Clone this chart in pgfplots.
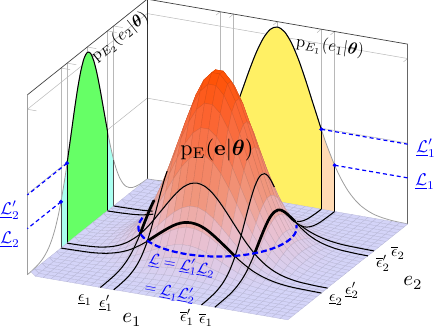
\documentclass[border=0pt]{standalone}
\usepackage{amsmath,amssymb}
\usepackage{pgfplots}
\usepackage{pgfplotstable}
\pgfplotsset{compat=1.18}
\pgfplotsset{pick/.style 2 args={x filter/.append code={\ifnum\coordindex<#1 \def\pgfmathresult{}\fi\ifnum\coordindex>#2 \def\pgfmathresult{}\fi}}}
\definecolor{hy}{RGB}{255,240,100}
\definecolor{hp}{RGB}{255,218,180}
\definecolor{hg}{RGB}{102,255,102}
\definecolor{hc}{RGB}{170,255,240}
% slices: t, marginal m, and joint at 1.25 (a) and 1.63 (b)
\pgfplotstableread{
t m a b
-3.71 .001 .000 .000
-3.4 .003 .001 .001
-3.2 .006 .003 .002
-3.0 .011 .005 .003
-2.8 .019 .009 .005
-2.6 .033 .016 .009
-2.4 .054 .026 .015
-2.2 .086 .041 .024
-2.0 .131 .062 .036
-1.8 .192 .091 .052
-1.63 .257 .121 .070
-1.4 .364 .172 .099
-1.25 .444 .210 .121
-1.0 .588 .278 .161
-.8 .704 .332 .192
-.6 .810 .382 .221
-.4 .895 .423 .245
-.2 .951 .449 .260
0 .970 .458 .265
.2 .951 .449 .260
.4 .895 .423 .245
.6 .810 .382 .221
.8 .704 .332 .192
1.0 .588 .278 .161
1.25 .444 .210 .121
1.4 .364 .172 .099
1.63 .257 .121 .070
1.8 .192 .091 .052
2.0 .131 .062 .036
2.2 .086 .041 .024
2.4 .054 .026 .015
2.6 .033 .016 .009
2.8 .019 .009 .005
3.0 .011 .005 .003
3.2 .006 .003 .002
3.4 .003 .001 .001
3.71 .001 .000 .000
}\T
\begin{document}
\begin{tikzpicture}
\begin{axis}[
  hide axis, clip=false,
  x={(35.1pt,-6.06pt)}, y={(16.15pt,12.9pt)}, z={(0pt,180pt)},
  xmin=-3.71, xmax=3.71, ymin=-3.71, ymax=3.71, zmin=0, zmax=1,
  point meta min=0, point meta max=1,
  colormap={hill}{rgb255=(212,212,248) rgb255=(234,190,205) rgb255=(240,150,125) rgb255=(246,122,85) rgb255=(252,98,45) rgb255=(255,80,0)},
  wire/.style={black!28, line width=0.5pt},
  thin slice/.style={black, line width=1.05pt, smooth, line join=round},
  thick slice/.style={black, line width=2.7pt, smooth, line cap=round},
]
% walls
\addplot3[wire] coordinates {(-3.71,-3.71,.92) (-3.71,3.71,.92) (3.71,3.71,.92)};
\addplot3[wire] coordinates {(-3.71,-3.71,.45) (-3.71,3.71,.45) (3.71,3.71,.45)};
\addplot3[wire] coordinates {(1.25,3.71,0) (1.25,3.71,1)};
\addplot3[wire] coordinates {(1.63,3.71,0) (1.63,3.71,1)};
\addplot3[wire] coordinates {(-1.25,3.71,0) (-1.25,3.71,1)};
\addplot3[wire] coordinates {(-1.63,3.71,0) (-1.63,3.71,1)};
\addplot3[wire] coordinates {(0,3.71,.97) (0,3.71,1)};
\addplot3[wire] coordinates {(-3.71,1.25,0) (-3.71,1.25,1)};
\addplot3[wire] coordinates {(-3.71,1.63,0) (-3.71,1.63,1)};
\addplot3[wire] coordinates {(-3.71,-1.25,0) (-3.71,-1.25,1)};
\addplot3[wire] coordinates {(-3.71,-1.63,0) (-3.71,-1.63,1)};
\addplot3[wire] coordinates {(-3.71,0,.97) (-3.71,0,1)};
\addplot3[wire, unbounded coords=jump] coordinates {
 (-1.63,3.71,1) (-1.63,3.45,1) (nan,nan,nan)
 (-1.25,3.71,1) (-1.25,3.45,1) (nan,nan,nan)
 (0,3.71,1) (0,3.45,1) (nan,nan,nan)
 (1.25,3.71,1) (1.25,3.45,1) (nan,nan,nan)
 (1.63,3.71,1) (1.63,3.45,1) (nan,nan,nan)
 (3.71,3.71,.92) (3.71,3.45,.92) (nan,nan,nan)
 (-3.71,-3.71,.92) (-3.45,-3.71,.92) (nan,nan,nan)
 (-3.71,-1.63,1) (-3.45,-1.63,1) (nan,nan,nan)
 (-3.71,-1.25,1) (-3.45,-1.25,1) (nan,nan,nan)
 (-3.71,0,1) (-3.45,0,1) (nan,nan,nan)
 (-3.71,1.25,1) (-3.45,1.25,1) (nan,nan,nan)
 (-3.71,1.63,1) (-3.45,1.63,1)
};
\addplot3[black!75, line width=0.7pt] coordinates {(-3.71,-3.71,1) (-3.71,3.71,1) (3.71,3.71,1)};
\addplot3[black!38, line width=1.2pt] coordinates {(-3.71,-3.71,0) (-3.71,-3.71,1)};
\addplot3[black!80, line width=0.6pt] coordinates {(-3.71,3.71,0) (-3.71,3.71,1)};
\addplot3[black!60, line width=0.8pt] coordinates {(3.71,3.71,0) (3.71,3.71,1)};
% marginals, filled parts
\addplot3[fill=hp, draw=none] coordinates {(1.25,3.71,0) (1.25,3.71,.444) (1.4,3.71,.364) (1.63,3.71,.257) (1.63,3.71,0)} -- cycle;
\addplot3[fill=hp, draw=none] coordinates {(-1.25,3.71,0) (-1.25,3.71,.444) (-1.4,3.71,.364) (-1.63,3.71,.257) (-1.63,3.71,0)} -- cycle;
\addplot3[fill=hy, draw=none] coordinates {(-1.25,3.71,0) (-1.25,3.71,.444) (-1,3.71,.588) (-.8,3.71,.704) (-.6,3.71,.81) (-.4,3.71,.895) (-.2,3.71,.951) (0,3.71,.97) (.2,3.71,.951) (.4,3.71,.895) (.6,3.71,.81) (.8,3.71,.704) (1,3.71,.588) (1.25,3.71,.444) (1.25,3.71,0)} -- cycle;
\addplot3[fill=hc, draw=none] coordinates {(-3.71,1.25,0) (-3.71,1.25,.444) (-3.71,1.4,.364) (-3.71,1.63,.257) (-3.71,1.63,0)} -- cycle;
\addplot3[fill=hc, draw=none] coordinates {(-3.71,-1.25,0) (-3.71,-1.25,.444) (-3.71,-1.4,.364) (-3.71,-1.63,.257) (-3.71,-1.63,0)} -- cycle;
\addplot3[fill=hg, draw=none] coordinates {(-3.71,-1.25,0) (-3.71,-1.25,.444) (-3.71,-1,.588) (-3.71,-.8,.704) (-3.71,-.6,.81) (-3.71,-.4,.895) (-3.71,-.2,.951) (-3.71,0,.97) (-3.71,.2,.951) (-3.71,.4,.895) (-3.71,.6,.81) (-3.71,.8,.704) (-3.71,1,.588) (-3.71,1.25,.444) (-3.71,1.25,0)} -- cycle;
% marginal curves
\addplot3[black!38, line width=0.8pt, smooth] table[x=t, y expr=3.71, z=m] {\T};
\addplot3[black!38, line width=0.8pt, smooth] table[x expr=-3.71, y=t, z=m] {\T};
\addplot3[black, line width=1pt, smooth, pick={12}{24}] table[x=t, y expr=3.71, z=m] {\T};
\addplot3[black, line width=1pt, smooth, pick={12}{24}] table[x expr=-3.71, y=t, z=m] {\T};
\addplot3[black, line width=1.1pt] coordinates {(1.25,3.71,0) (1.25,3.71,.444)};
\addplot3[black, line width=1.1pt] coordinates {(1.63,3.71,0) (1.63,3.71,.257)};
\addplot3[black, line width=1.1pt] coordinates {(-3.71,-1.25,0) (-3.71,-1.25,.444)};
\addplot3[black, line width=1.1pt] coordinates {(-3.71,1.25,0) (-3.71,1.25,.444)};
\addplot3[black!70, line width=0.7pt] coordinates {(-3.71,-1.63,0) (-3.71,-1.63,.257)};
\addplot3[black!70, line width=0.7pt] coordinates {(-3.71,1.63,0) (-3.71,1.63,.257)};
% levels in blue
\addplot3[blue, line width=1.2pt, dash pattern=on 4pt off 3pt] coordinates {(1.25,3.71,.444) (3.71,3.71,.444)};
\addplot3[blue, line width=1.2pt, dash pattern=on 4pt off 3pt] coordinates {(1.63,3.71,.257) (3.71,3.71,.257)};
\addplot3[blue, line width=1.2pt, dash pattern=on 4pt off 3pt] coordinates {(-3.71,-1.25,.444) (-3.71,-3.71,.444)};
\addplot3[blue, line width=1.2pt, dash pattern=on 4pt off 3pt] coordinates {(-3.71,-1.63,.257) (-3.71,-3.71,.257)};
\addplot3[only marks, mark=*, mark size=1.8pt, blue] coordinates {(1.25,3.71,.444) (1.63,3.71,.257) (-3.71,-1.25,.444) (-3.71,-1.63,.257)};
% joint density, one line per half row
\addplot3[surf, shader=faceted, faceted color=mapped color!87!black, line width=0.3pt, z buffer=sort,
  mesh/rows=34, mesh/cols=34]
 table[row sep=crcr, header=false, x expr={-3.71+0.22485*mod(\coordindex,34)}, y expr={3.71-0.22485*floor(\coordindex/34)}, z index=0] {
0\\0\\0\\0\\0\\0\\0\\0\\0\\0\\0\\0\\.001\\.001\\.001\\.001\\.001\\
.001\\.001\\.001\\.001\\.001\\0\\0\\0\\0\\0\\0\\0\\0\\0\\0\\0\\0\\
0\\0\\0\\0\\0\\0\\0\\0\\0\\.001\\.001\\.001\\.001\\.002\\.002\\.002\\.002\\
.002\\.002\\.002\\.002\\.001\\.001\\.001\\.001\\0\\0\\0\\0\\0\\0\\0\\0\\0\\
0\\0\\0\\0\\0\\0\\0\\.001\\.001\\.001\\.002\\.002\\.003\\.004\\.004\\.005\\.005\\
.005\\.005\\.004\\.004\\.003\\.002\\.002\\.001\\.001\\.001\\0\\0\\0\\0\\0\\0\\0\\
0\\0\\0\\0\\0\\0\\.001\\.001\\.002\\.002\\.003\\.005\\.006\\.007\\.009\\.009\\.010\\
.010\\.009\\.009\\.007\\.006\\.005\\.003\\.002\\.002\\.001\\.001\\0\\0\\0\\0\\0\\0\\
0\\0\\0\\0\\0\\.001\\.001\\.002\\.003\\.005\\.007\\.009\\.012\\.014\\.016\\.018\\.019\\
.019\\.018\\.016\\.014\\.012\\.009\\.007\\.005\\.003\\.002\\.001\\.001\\0\\0\\0\\0\\0\\
0\\0\\0\\0\\.001\\.001\\.002\\.004\\.006\\.009\\.012\\.016\\.021\\.026\\.030\\.033\\.035\\
.035\\.033\\.030\\.026\\.021\\.016\\.012\\.009\\.006\\.004\\.002\\.001\\.001\\0\\0\\0\\0\\
0\\0\\0\\.001\\.001\\.002\\.004\\.006\\.010\\.015\\.021\\.029\\.037\\.045\\.053\\.058\\.061\\
.061\\.058\\.053\\.045\\.037\\.029\\.021\\.015\\.010\\.006\\.004\\.002\\.001\\.001\\0\\0\\0\\
0\\0\\.001\\.001\\.002\\.004\\.006\\.010\\.016\\.025\\.035\\.048\\.061\\.075\\.087\\.097\\.102\\
.102\\.097\\.087\\.075\\.061\\.048\\.035\\.025\\.016\\.010\\.006\\.004\\.002\\.001\\.001\\0\\0\\
0\\0\\.001\\.002\\.003\\.006\\.010\\.016\\.026\\.039\\.055\\.075\\.097\\.118\\.138\\.152\\.160\\
.160\\.152\\.138\\.118\\.097\\.075\\.055\\.039\\.026\\.016\\.010\\.006\\.003\\.002\\.001\\0\\0\\
0\\.001\\.001\\.002\\.005\\.009\\.015\\.025\\.039\\.058\\.083\\.112\\.145\\.177\\.206\\.228\\.240\\
.240\\.228\\.206\\.177\\.145\\.112\\.083\\.058\\.039\\.025\\.015\\.009\\.005\\.002\\.001\\.001\\0\\
0\\.001\\.002\\.003\\.007\\.012\\.021\\.035\\.055\\.083\\.118\\.160\\.206\\.252\\.294\\.325\\.342\\
.342\\.325\\.294\\.252\\.206\\.160\\.118\\.083\\.055\\.035\\.021\\.012\\.007\\.003\\.002\\.001\\0\\
0\\.001\\.002\\.005\\.009\\.016\\.029\\.048\\.075\\.112\\.160\\.217\\.279\\.342\\.398\\.440\\.463\\
.463\\.440\\.398\\.342\\.279\\.217\\.160\\.112\\.075\\.048\\.029\\.016\\.009\\.005\\.002\\.001\\0\\
.001\\.001\\.003\\.006\\.012\\.021\\.037\\.061\\.097\\.145\\.206\\.279\\.359\\.440\\.512\\.566\\.596\\
.596\\.566\\.512\\.440\\.359\\.279\\.206\\.145\\.097\\.061\\.037\\.021\\.012\\.006\\.003\\.001\\.001\\
.001\\.002\\.004\\.007\\.014\\.026\\.045\\.075\\.118\\.177\\.252\\.342\\.440\\.538\\.627\\.693\\.729\\
.729\\.693\\.627\\.538\\.440\\.342\\.252\\.177\\.118\\.075\\.045\\.026\\.014\\.007\\.004\\.002\\.001\\
.001\\.002\\.004\\.009\\.016\\.030\\.053\\.087\\.138\\.206\\.294\\.398\\.512\\.627\\.729\\.807\\.849\\
.849\\.807\\.729\\.627\\.512\\.398\\.294\\.206\\.138\\.087\\.053\\.030\\.016\\.009\\.004\\.002\\.001\\
.001\\.002\\.005\\.009\\.018\\.033\\.058\\.097\\.152\\.228\\.325\\.440\\.566\\.693\\.807\\.892\\.939\\
.939\\.892\\.807\\.693\\.566\\.440\\.325\\.228\\.152\\.097\\.058\\.033\\.018\\.009\\.005\\.002\\.001\\
.001\\.002\\.005\\.010\\.019\\.035\\.061\\.102\\.160\\.240\\.342\\.463\\.596\\.729\\.849\\.939\\.987\\
.987\\.939\\.849\\.729\\.596\\.463\\.342\\.240\\.160\\.102\\.061\\.035\\.019\\.010\\.005\\.002\\.001\\
.001\\.002\\.005\\.010\\.019\\.035\\.061\\.102\\.160\\.240\\.342\\.463\\.596\\.729\\.849\\.939\\.987\\
.987\\.939\\.849\\.729\\.596\\.463\\.342\\.240\\.160\\.102\\.061\\.035\\.019\\.010\\.005\\.002\\.001\\
.001\\.002\\.005\\.009\\.018\\.033\\.058\\.097\\.152\\.228\\.325\\.440\\.566\\.693\\.807\\.892\\.939\\
.939\\.892\\.807\\.693\\.566\\.440\\.325\\.228\\.152\\.097\\.058\\.033\\.018\\.009\\.005\\.002\\.001\\
.001\\.002\\.004\\.009\\.016\\.030\\.053\\.087\\.138\\.206\\.294\\.398\\.512\\.627\\.729\\.807\\.849\\
.849\\.807\\.729\\.627\\.512\\.398\\.294\\.206\\.138\\.087\\.053\\.030\\.016\\.009\\.004\\.002\\.001\\
.001\\.002\\.004\\.007\\.014\\.026\\.045\\.075\\.118\\.177\\.252\\.342\\.440\\.538\\.627\\.693\\.729\\
.729\\.693\\.627\\.538\\.440\\.342\\.252\\.177\\.118\\.075\\.045\\.026\\.014\\.007\\.004\\.002\\.001\\
.001\\.001\\.003\\.006\\.012\\.021\\.037\\.061\\.097\\.145\\.206\\.279\\.359\\.440\\.512\\.566\\.596\\
.596\\.566\\.512\\.440\\.359\\.279\\.206\\.145\\.097\\.061\\.037\\.021\\.012\\.006\\.003\\.001\\.001\\
0\\.001\\.002\\.005\\.009\\.016\\.029\\.048\\.075\\.112\\.160\\.217\\.279\\.342\\.398\\.440\\.463\\
.463\\.440\\.398\\.342\\.279\\.217\\.160\\.112\\.075\\.048\\.029\\.016\\.009\\.005\\.002\\.001\\0\\
0\\.001\\.002\\.003\\.007\\.012\\.021\\.035\\.055\\.083\\.118\\.160\\.206\\.252\\.294\\.325\\.342\\
.342\\.325\\.294\\.252\\.206\\.160\\.118\\.083\\.055\\.035\\.021\\.012\\.007\\.003\\.002\\.001\\0\\
0\\.001\\.001\\.002\\.005\\.009\\.015\\.025\\.039\\.058\\.083\\.112\\.145\\.177\\.206\\.228\\.240\\
.240\\.228\\.206\\.177\\.145\\.112\\.083\\.058\\.039\\.025\\.015\\.009\\.005\\.002\\.001\\.001\\0\\
0\\0\\.001\\.002\\.003\\.006\\.010\\.016\\.026\\.039\\.055\\.075\\.097\\.118\\.138\\.152\\.160\\
.160\\.152\\.138\\.118\\.097\\.075\\.055\\.039\\.026\\.016\\.010\\.006\\.003\\.002\\.001\\0\\0\\
0\\0\\.001\\.001\\.002\\.004\\.006\\.010\\.016\\.025\\.035\\.048\\.061\\.075\\.087\\.097\\.102\\
.102\\.097\\.087\\.075\\.061\\.048\\.035\\.025\\.016\\.010\\.006\\.004\\.002\\.001\\.001\\0\\0\\
0\\0\\0\\.001\\.001\\.002\\.004\\.006\\.010\\.015\\.021\\.029\\.037\\.045\\.053\\.058\\.061\\
.061\\.058\\.053\\.045\\.037\\.029\\.021\\.015\\.010\\.006\\.004\\.002\\.001\\.001\\0\\0\\0\\
0\\0\\0\\0\\.001\\.001\\.002\\.004\\.006\\.009\\.012\\.016\\.021\\.026\\.030\\.033\\.035\\
.035\\.033\\.030\\.026\\.021\\.016\\.012\\.009\\.006\\.004\\.002\\.001\\.001\\0\\0\\0\\0\\
0\\0\\0\\0\\0\\.001\\.001\\.002\\.003\\.005\\.007\\.009\\.012\\.014\\.016\\.018\\.019\\
.019\\.018\\.016\\.014\\.012\\.009\\.007\\.005\\.003\\.002\\.001\\.001\\0\\0\\0\\0\\0\\
0\\0\\0\\0\\0\\0\\.001\\.001\\.002\\.002\\.003\\.005\\.006\\.007\\.009\\.009\\.010\\
.010\\.009\\.009\\.007\\.006\\.005\\.003\\.002\\.002\\.001\\.001\\0\\0\\0\\0\\0\\0\\
0\\0\\0\\0\\0\\0\\0\\.001\\.001\\.001\\.002\\.002\\.003\\.004\\.004\\.005\\.005\\
.005\\.005\\.004\\.004\\.003\\.002\\.002\\.001\\.001\\.001\\0\\0\\0\\0\\0\\0\\0\\
0\\0\\0\\0\\0\\0\\0\\0\\0\\.001\\.001\\.001\\.001\\.002\\.002\\.002\\.002\\
.002\\.002\\.002\\.002\\.001\\.001\\.001\\.001\\0\\0\\0\\0\\0\\0\\0\\0\\0\\
0\\0\\0\\0\\0\\0\\0\\0\\0\\0\\0\\0\\.001\\.001\\.001\\.001\\.001\\
.001\\.001\\.001\\.001\\.001\\0\\0\\0\\0\\0\\0\\0\\0\\0\\0\\0\\0\\
};
% slices over the surface
\addplot3[thin slice, pick={0}{22}] table[x expr=1.25, y=t, z=a] {\T};
\addplot3[thin slice, pick={29}{36}] table[x expr=1.25, y=t, z=a] {\T};
\addplot3[thin slice, pick={0}{16}] table[x expr=-1.25, y=t, z=a] {\T};
\addplot3[thin slice] table[x expr=1.63, y=t, z=b] {\T};
\addplot3[thin slice, pick={0}{16}] table[x expr=-1.63, y=t, z=b] {\T};
\addplot3[thin slice] table[x=t, y expr=-1.63, z=b] {\T};
\addplot3[thin slice] table[x=t, y expr=-1.25, z=a] {\T};
\addplot3[thin slice, pick={0}{6}] table[x=t, y expr=1.25, z=a] {\T};
\addplot3[thin slice, pick={26}{36}] table[x=t, y expr=1.25, z=a] {\T};
\addplot3[thin slice, pick={0}{5}] table[x=t, y expr=1.63, z=b] {\T};
\addplot3[thin slice, pick={26}{36}] table[x=t, y expr=1.63, z=b] {\T};
\addplot3[thick slice, pick={12}{24}] table[x=t, y expr=-1.63, z=b] {\T};
\addplot3[thick slice, pick={12}{24}] table[x expr=1.63, y=t, z=b] {\T};
\addplot3[thick slice, pick={12}{16}] table[x expr=-1.63, y=t, z=b] {\T};
% level curve
\addplot3[blue, line width=2.2pt, smooth, dash pattern=on 6pt off 3pt] coordinates {
 (-2.039,-.214,.123) (-1.950,-.634,.123) (-1.775,-1.025,.123) (-1.523,-1.372,.123) (-1.205,-1.659,.123)
 (-.834,-1.873,.123) (-.426,-2.005,.123) (0,-2.05,.123) (.426,-2.005,.123) (.834,-1.873,.123)
 (1.205,-1.659,.123) (1.523,-1.372,.123) (1.775,-1.025,.123) (1.950,-.634,.123) (2.039,-.214,.123)
 (2.039,.214,.123) (1.950,.634,.123) (1.775,1.025,.123)};
\coordinate (O) at (axis cs:0,0,0);
\end{axis}
\pgfresetboundingbox
\begin{scope}[shift={(O)}, x=1pt, y=-1pt, shift={(-217.5pt,249.5pt)}]
\path[use as bounding box] (0,0) rectangle (439,335);
\node[inner sep=0pt, scale=2.2] at (217,150) {$\mathrm{p}_{\mathrm{E}}(\mathbf{e}|\boldsymbol{\theta})$};
\node[inner sep=0pt, scale=1.65, rotate=-8] at (330,47) {$\mathrm{p}_{E_1}(e_1|\boldsymbol{\theta})$};
\node[inner sep=0pt, scale=1.65, rotate=39] at (120,37) {$\mathrm{p}_{E_2}(e_2|\boldsymbol{\theta})$};
\node[inner sep=0pt, scale=1.7, text=blue] at (426,148) {$\underline{\mathcal{L}}'_1$};
\node[inner sep=0pt, scale=1.7, text=blue] at (425,182) {$\underline{\mathcal{L}}_1$};
\node[inner sep=0pt, scale=1.7, text=blue] at (10,210) {$\underline{\mathcal{L}}'_2$};
\node[inner sep=0pt, scale=1.7, text=blue] at (10,240) {$\underline{\mathcal{L}}_2$};
\node[inner sep=0pt, scale=1.55, text=blue, rotate=-10] at (182,265) {$\underline{\mathcal{L}}=\underline{\mathcal{L}}'_1\underline{\mathcal{L}}_2$};
\node[inner sep=0pt, scale=1.55, text=blue, rotate=-11] at (170,292) {$=\underline{\mathcal{L}}_1\underline{\mathcal{L}}'_2$};
\node[inner sep=0pt, scale=1.6] at (85,300) {$\underline{\epsilon}_1$};
\node[inner sep=0pt, scale=1.6] at (106,303) {$\underline{\epsilon}'_1$};
\node[inner sep=0pt, scale=1.6] at (187,317) {$\overline{\epsilon}'_1$};
\node[inner sep=0pt, scale=1.6] at (206,320) {$\overline{\epsilon}_1$};
\node[inner sep=0pt, scale=2.1] at (132,320) {$e_1$};
\node[inner sep=0pt, scale=1.6] at (336,300) {$\underline{\epsilon}_2$};
\node[inner sep=0pt, scale=1.6] at (352,290) {$\underline{\epsilon}'_2$};
\node[inner sep=0pt, scale=1.6] at (383,263) {$\overline{\epsilon}'_2$};
\node[inner sep=0pt, scale=1.6] at (398,253) {$\overline{\epsilon}_2$};
\node[inner sep=0pt, scale=2.1] at (413,283) {$e_2$};
\end{scope}
\end{tikzpicture}
\end{document}
